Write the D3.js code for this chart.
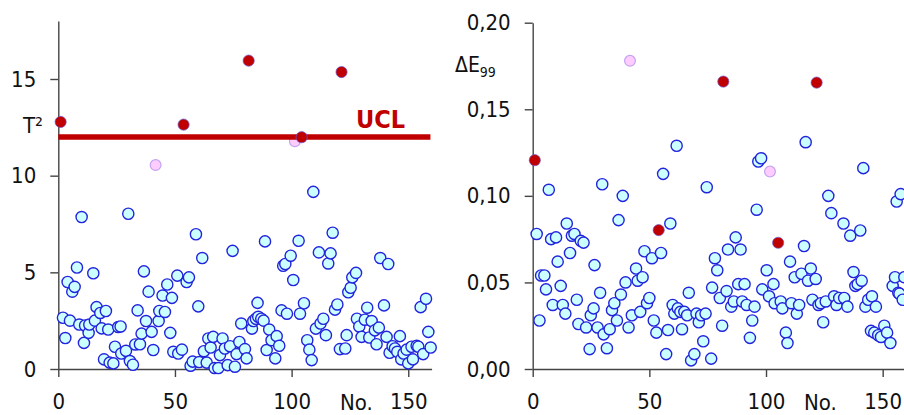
<!DOCTYPE html>
<html>
<head>
<meta charset="utf-8">
<script src="https://cdn.jsdelivr.net/npm/d3@7"></script>
<style>
  body { margin: 0; background: #fff; }
  svg { display: block; }
</style>
</head>
<body>
<div id="chart"></div>
<script>
// ----------------------------------
// DATA  ([No., value])
// ----------------------------------

const t2Normal = [
  [2,2.65],[3,1.6],[4,4.5],[5,2.5],[6,4.0],[7,4.25],[8,5.25],[9,2.3],[10,7.86],[11,1.35],
  [11.5,2.25],[13,1.87],[13.3,2.3],[15,4.95],[15.7,2.5],[16.4,3.2],[18,2.9],[18.6,2.1],[19.6,0.5],[20.4,3.0],
  [21.4,2.04],[22,0.33],[23.6,0.29],[24.3,1.15],[25.7,2.17],[26.7,2.2],[27,0.8],[29,0.94],[30,8.03],[30.7,0.41],
  [32,0.22],[33,1.27],[34,3.03],[35,1.28],[35.7,1.83],[36.7,5.05],[37.6,2.48],[38.7,4.0],[40,1.92],[40.7,0.98],
  [43,2.48],[43.3,3.0],[44.7,3.8],[45.7,2.95],[46.7,4.37],[48,1.87],[48.7,3.68],[49.3,0.89],[51,4.83],[51.4,0.8],
  [53,1.0],[55,4.5],[56,4.74],[56.7,0.17],[57.6,0.38],[59,6.97],[60,3.24],[60.4,0.36],[61.7,5.74],[62.4,0.92],
  [63.6,0.33],[64.3,1.58],[65.3,1.11],[66.4,1.66],[67,0.05],[68.6,0.05],[69.3,0.72],[70.4,1.58],[71.4,1.06],[72.6,0.2],
  [73.6,1.18],[74.7,6.11],[75.7,0.12],[76.4,0.77],[77.6,1.4],[78.4,2.35],[80,1.03],[80.7,0.55],[83,2.09],[83.6,2.48],
  [84.7,2.6],[85.7,2.7],[85.4,3.42],[87,2.6],[88,2.5],[88.6,6.6],[89.3,0.98],[90.4,2.04],[91.4,1.49],[93,0.55],
  [93.6,1.7],[94.7,1.2],[95.7,3.03],[96.4,5.34],[97.3,5.43],[98,2.86],[99.6,5.86],[100.7,4.6],[103,6.63],[103.6,2.86],
  [105.3,3.4],[106.7,1.49],[107.6,1.0],[108.6,0.46],[109.3,9.16],[110.4,2.09],[111.7,6.03],[112.4,2.35],[113.6,2.6],[114.7,1.75],
  [115.7,5.46],[116.7,5.98],[117.6,7.05],[118.6,3.07],[119.6,3.34],[120.7,1.03],[123,1.06],[123.6,1.75],[124.3,3.97],[125.3,4.2],
  [126,4.74],[127.6,4.97],[128,2.6],[129,2.2],[130,1.66],[131.4,2.55],[132.4,3.17],[133.3,1.63],[134.3,2.48],[135.7,2.0],
  [136.4,1.28],[137.4,2.14],[138,5.74],[139.6,3.29],[140.7,1.66],[141.4,5.43],[142,0.84],[143.3,1.18],[144.3,1.06],[145.3,0.89],
  [146.4,1.7],[147,0.5],[148,0.8],[149.3,1.0],[150,0.29],[151.4,1.15],[152,0.5],[153.6,1.2],[154.3,1.15],[155.3,3.2],
  [156.4,0.77],[157.6,3.63],[158.6,1.92],[159.6,1.11]
];
const t2Warn = [[41.7,10.55],[101.4,11.78]];
const t2Alarm = [[1,12.78],[53.7,12.64],[81.6,15.95],[104.3,11.99],[121.4,15.36]];
const t2Ucl = 12;

const deNormal = [
  [1.7,0.078],[2.9,0.028],[3.6,0.054],[5,0.054],[5.7,0.046],[6.9,0.1035],[7.9,0.075],[8.6,0.037],[10,0.076],[10.7,0.062],
  [12,0.048],[12.9,0.037],[14,0.032],[14.6,0.084],[16,0.067],[16.8,0.077],[17.9,0.078],[18.9,0.040],[19.6,0.026],[20.6,0.074],
  [21.8,0.073],[22.9,0.024],[24.4,0.0115],[24.9,0.031],[26.1,0.035],[26.5,0.060],[27.8,0.024],[28.9,0.044],[29.8,0.1067],[30.4,0.020],
  [31.8,0.012],[33,0.023],[34,0.034],[35,0.038],[36.1,0.028],[36.8,0.086],[37.8,0.043],[38.6,0.100],[39.8,0.050],[41.1,0.024],
  [42.5,0.031],[44.3,0.058],[45,0.051],[46.1,0.033],[47.1,0.053],[47.9,0.068],[49,0.038],[50,0.041],[51.1,0.064],[51.9,0.028],
  [53,0.021],[55,0.067],[55.9,0.1127],[57.2,0.0086],[58,0.0225],[59,0.084],[60,0.037],[60.7,0.032],[61.7,0.1289],[62.2,0.035],
  [63.3,0.033],[64,0.023],[65,0.033],[66.2,0.031],[66.9,0.044],[67.9,0.005],[69.3,0.0086],[70.2,0.032],[71.2,0.027],[72.2,0.031],
  [73.1,0.016],[74.1,0.032],[74.6,0.105],[76.5,0.006],[76.9,0.047],[78.1,0.064],[79.1,0.057],[80.2,0.041],[81.2,0.025],[83.1,0.045],
  [83.7,0.069],[85.1,0.036],[86.2,0.039],[87,0.076],[88.1,0.049],[89.1,0.069],[89.8,0.039],[90.8,0.049],[91.7,0.037],[93.1,0.018],
  [94.1,0.028],[95.1,0.036],[96,0.092],[96.7,0.1198],[97.9,0.1217],[98.4,0.046],[100.3,0.057],[101.3,0.042],[103.2,0.049],[103.7,0.038],
  [106.3,0.039],[107,0.035],[108.5,0.021],[109.2,0.015],[110.3,0.062],[110.9,0.038],[112.3,0.053],[113.2,0.032],[114.2,0.037],[115.2,0.055],
  [116.3,0.071],[117,0.131],[118,0.051],[119.2,0.058],[119.9,0.040],[121.3,0.052],[122.5,0.037],[123.5,0.038],[124.5,0.027],[125.6,0.039],
  [126.7,0.100],[128,0.090],[129.2,0.042],[130.2,0.037],[131.4,0.041],[133.2,0.084],[133.5,0.041],[134.9,0.036],[136.1,0.077],[137.5,0.056],
  [138.3,0.048],[139.3,0.049],[140.4,0.080],[141,0.051],[141.7,0.116],[142.6,0.036],[143.8,0.040],[145,0.022],[145.4,0.042],[146.4,0.021],
  [147.1,0.036],[148.1,0.0195],[149.3,0.0185],[150.7,0.025],[151.9,0.021],[153.3,0.015],[154.3,0.048],[155.3,0.053],[156,0.0967],[156.7,0.044],
  [157.2,0.0435],[157.7,0.101],[158.6,0.040],[159.3,0.053]
];
const deWarn = [[41.7,0.178],[101.7,0.114]];
const deAlarm = [[0.9,0.1206],[54,0.0802],[81.7,0.166],[105.2,0.0729],[121.7,0.1654]];

const noTicks = [0, 50, 100, 150];
const t2Ticks = [0, 5, 10, 15];
const deTicks = [0, 0.05, 0.10, 0.15, 0.20];

// ----------------------------------
// SETUP
// ----------------------------------

const width = 904, height = 415;
const font = '"DejaVu Sans Condensed", "DejaVu Sans", sans-serif';
const axisColor = '#444';
const textColor = '#111';

const svg = d3.select('#chart')
  .append('svg')
  .attr('width', width)
  .attr('height', height)
  .style('font-family', font);

function drawPanel(opts) {
  const x = d3.scaleLinear().domain([0, 160]).range(opts.xRange);
  const y = d3.scaleLinear().domain(opts.yDomain).range([369, opts.yTop]);

  const g = svg.append('g');

  const yAxis = g.append('g')
    .attr('transform', `translate(${opts.xRange[0]},0)`)
    .call(d3.axisLeft(y).tickValues(opts.yTicks).tickFormat(opts.fmt)
      .tickSize(8).tickSizeOuter(0).tickPadding(14));

  const xAxis = g.append('g')
    .attr('transform', `translate(0,369)`)
    .call(d3.axisBottom(x).tickValues(noTicks)
      .tickSize(8).tickSizeOuter(0).tickPadding(16));

  [yAxis, xAxis].forEach(a => {
    a.selectAll('.domain, .tick line').attr('stroke', axisColor).attr('stroke-width', 1.4);
    a.selectAll('.tick text')
      .attr('fill', textColor)
      .style('font-family', font)
      .style('font-size', '22px');
  });

  // normal points
  g.append('g').selectAll('circle')
    .data(opts.normal)
    .join('circle')
    .attr('cx', d => x(d[0]))
    .attr('cy', d => y(d[1]))
    .attr('r', 5.6)
    .attr('fill', '#ccffff')
    .attr('stroke', '#2323dd')
    .attr('stroke-width', 1.4);

  g.append('g').selectAll('circle')
    .data(opts.warn)
    .join('circle')
    .attr('cx', d => x(d[0]))
    .attr('cy', d => y(d[1]))
    .attr('r', 5.4)
    .attr('fill', '#ffccff')
    .attr('stroke', '#c4a4f2')
    .attr('stroke-width', 1.2);

  if (opts.ucl != null) {
    g.append('line')
      .attr('x1', x(0))
      .attr('x2', x(159.5))
      .attr('y1', y(opts.ucl))
      .attr('y2', y(opts.ucl))
      .attr('stroke', '#c00000')
      .attr('stroke-width', 5.5);

    g.append('text')
      .text('UCL')
      .attr('x', 356)
      .attr('y', 128)
      .attr('fill', '#c00000')
      .style('font-weight', 'bold')
      .style('font-size', '25px');
  }

  g.append('g').selectAll('circle')
    .data(opts.alarm)
    .join('circle')
    .attr('cx', d => x(d[0]))
    .attr('cy', d => y(d[1]))
    .attr('r', 5.6)
    .attr('fill', '#c00000')
    .attr('stroke', '#6a5ad0')
    .attr('stroke-width', 0.7);

  g.append('text')
    .text('No.')
    .attr('x', opts.noX)
    .attr('y', 410)
    .attr('fill', textColor)
    .style('font-size', '22px');

  return g;
}

// ----------------------------------
// LEFT PANEL : T²
// ----------------------------------

const left = drawPanel({
  xRange: [58.3, 431.6],
  yDomain: [0, 18],
  yTop: 21,
  yTicks: t2Ticks,
  fmt: d3.format('d'),
  normal: t2Normal,
  warn: t2Warn,
  alarm: t2Alarm,
  ucl: t2Ucl,
  noX: 340
});

left.append('text')
  .text('T²')
  .attr('x', 23)
  .attr('y', 133)
  .attr('fill', textColor)
  .style('font-size', '22px');

// ----------------------------------
// RIGHT PANEL : ΔE99
// ----------------------------------

const right = drawPanel({
  xRange: [532.7, 906],
  yDomain: [0, 0.2],
  yTop: 22.7,
  yTicks: deTicks,
  fmt: d => d3.format('.2f')(d).replace('.', ','),
  normal: deNormal,
  warn: deWarn,
  alarm: deAlarm,
  ucl: null,
  noX: 804
});

const deLabel = right.append('text')
  .attr('x', 455)
  .attr('y', 72)
  .attr('fill', textColor)
  .style('font-size', '21px');
deLabel.append('tspan').text('ΔE');
deLabel.append('tspan').text('99').attr('dy', 5).style('font-size', '14px');
</script>
</body>
</html>
